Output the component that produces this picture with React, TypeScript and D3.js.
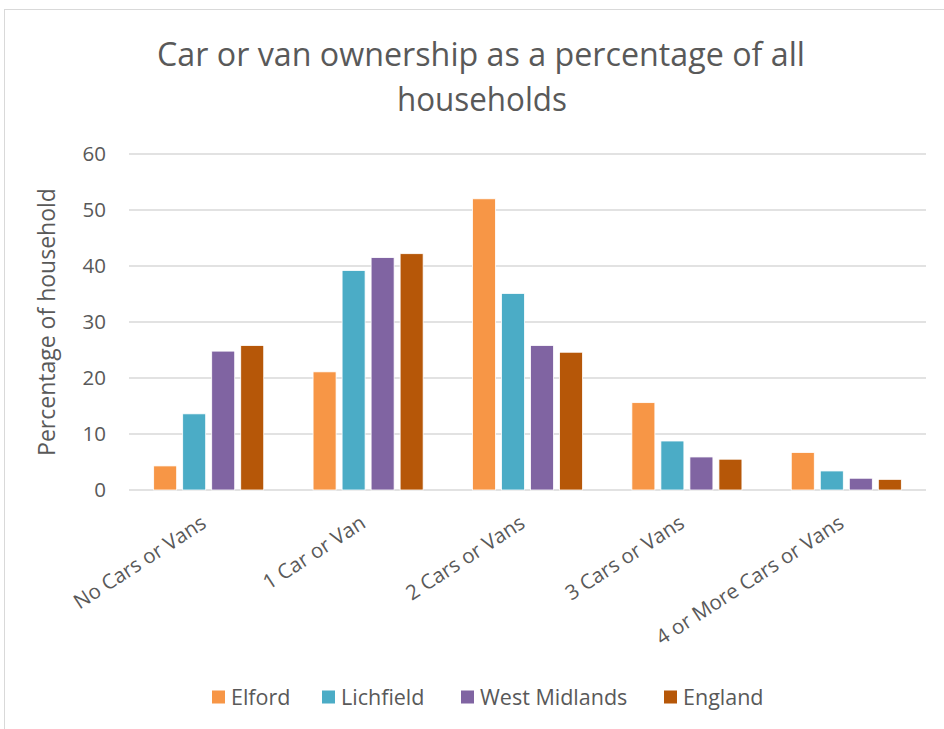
import React from "react";
import * as d3 from "d3";

const categories = ["No Cars or Vans", "1 Car or Van", "2 Cars or Vans", "3 Cars or Vans", "4 or More Cars or Vans"];
const seriesNames = ["Elford", "Lichfield", "West Midlands", "England"];
const elford = [4.3, 21.1, 52.0, 15.6, 6.7];
const lichfield = [13.6, 39.2, 35.1, 8.75, 3.4];
const westMidlands = [24.8, 41.5, 25.8, 5.9, 2.1];
const england = [25.8, 42.2, 24.6, 5.5, 1.9];
const yTicks = [0, 10, 20, 30, 40, 50, 60];
const colors = ["#F79646", "#4BACC6", "#8064A2", "#B65708"];

const W = 944;
const H = 729;
const textColor = "#595959";
const font = "'Open Sans', sans-serif";

export default function App() {
  const seriesValues = [elford, lichfield, westMidlands, england];
  const x0 = d3.scaleBand<string>().domain(categories).range([129, 926]).padding(0);
  const x1 = d3
    .scaleBand<string>()
    .domain(seriesNames)
    .range([0, x0.bandwidth()])
    .paddingInner(0.207)
    .paddingOuter(0.85);
  const y = d3.scaleLinear().domain([0, 60]).range([490, 154]);

  const legendX = d3.scaleOrdinal<string, number>().domain(seriesNames).range([212, 322, 461, 664]);

  return (
    <svg
      width={W}
      height={H}
      style={{ position: "absolute", left: 0, top: 0, background: "#fff" }}
      fontFamily={font}
    >
      <rect x={0} y={0} width={W} height={H} fill="#fff" />
      <rect x={4.5} y={9.5} width={W + 10} height={H + 10} fill="none" stroke="#d9d9d9" strokeWidth={1} />

      <text x={481} y={66} textAnchor="middle" fontSize={32} fill={textColor} textLength={648} lengthAdjust="spacingAndGlyphs">
        Car or van ownership as a percentage of all
      </text>
      <text x={482} y={111} textAnchor="middle" fontSize={32} fill={textColor} textLength={170} lengthAdjust="spacingAndGlyphs">
        households
      </text>

      {yTicks.map((t) => (
        <g key={t}>
          <line x1={129} x2={926} y1={y(t)} y2={y(t)} stroke="#d9d9d9" strokeWidth={1.3} />
          <text x={106} y={y(t)} dy="0.35em" textAnchor="end" fontSize={20.5} fill={textColor}>
            {t}
          </text>
        </g>
      ))}

      <text
        transform={`translate(55, 322) rotate(-90)`}
        textAnchor="middle"
        fontSize={23}
        fill={textColor}
      >
        Percentage of household
      </text>

      {categories.map((c, ci) => (
        <g key={c} transform={`translate(${x0(c)},0)`}>
          {seriesNames.map((s, si) => {
            const v = seriesValues[si][ci];
            return (
              <rect
                key={s}
                x={x1(s)}
                y={y(v)}
                width={x1.bandwidth()}
                height={y(0) - y(v)}
                fill={colors[si]}
                stroke="#fff"
                strokeWidth={0.8}
              />
            );
          })}
        </g>
      ))}

      {categories.map((c) => (
        <text
          key={c}
          transform={`translate(${(x0(c) as number) + x0.bandwidth() / 2 - 9}, 514) rotate(-33)`}
          textAnchor="end"
          dy="0.72em"
          fontSize={20.5}
          fill={textColor}
        >
          {c}
        </text>
      ))}

      {seriesNames.map((s, si) => (
        <g key={s} transform={`translate(${legendX(s)}, 697)`}>
          <rect x={0} y={-6.5} width={13} height={13} fill={colors[si]} />
          <text x={19} y={0} dy="0.35em" fontSize={21.5} fill={textColor}>
            {s}
          </text>
        </g>
      ))}
    </svg>
  );
}
